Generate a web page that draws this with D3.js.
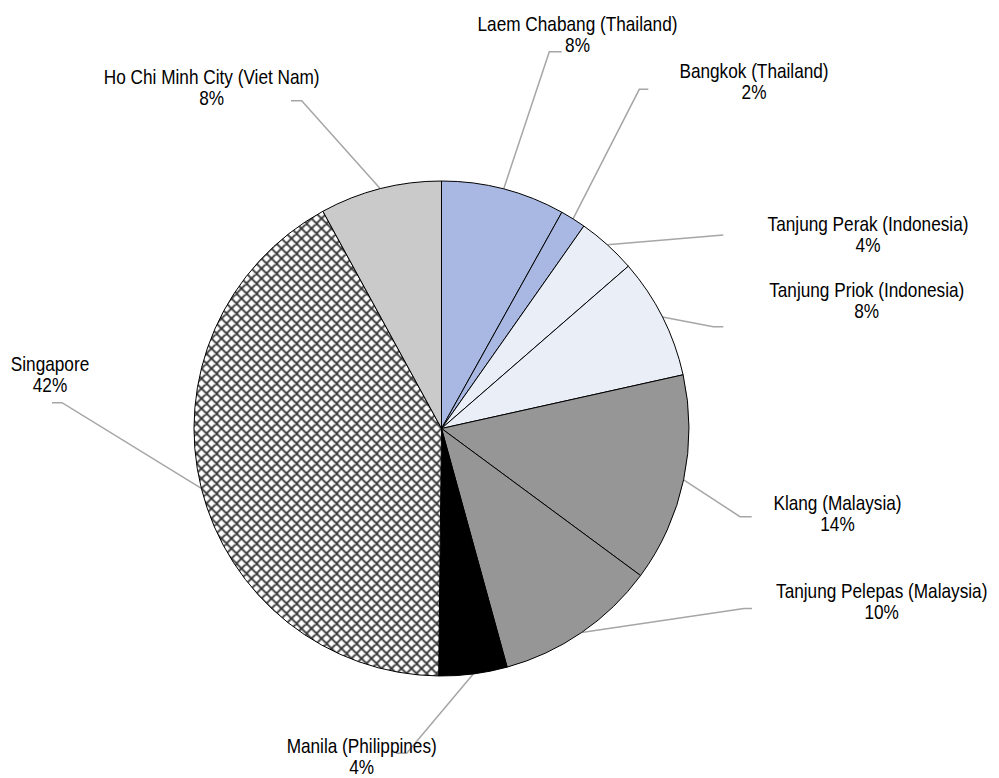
<!DOCTYPE html>
<html><head><meta charset="utf-8">
<script src="https://cdn.jsdelivr.net/npm/d3@7/dist/d3.min.js"></script>
<style>html,body{margin:0;padding:0;background:#fff}</style>
</head><body>
<svg id="chart" width="999" height="778"></svg>
<script>
// ---- data ----
const ports = [
  "Laem Chabang (Thailand)", "Bangkok (Thailand)", "Tanjung Perak (Indonesia)",
  "Tanjung Priok (Indonesia)", "Klang (Malaysia)", "Tanjung Pelepas (Malaysia)",
  "Manila (Philippines)", "Singapore", "Ho Chi Minh City (Viet Nam)"
];
const shares = [8.08, 1.67, 3.86, 7.9, 13.6, 10.6, 4.45, 41.85, 7.95];
const pctLabels = ["8%", "2%", "4%", "8%", "14%", "10%", "4%", "42%", "8%"];

// ---- styles / layout ----
const fills = ["#A8B8E2", "#A8B8E2", "#EAEEF7", "#EAEEF7", "#969696", "#969696", "#000000", "url(#hatch)", "#CACACA"];
const labelLayout = [
  {cx: 577.5, y: 30.5, elbow: [549.3, 51.7], end: [561.7, 51.7]},
  {cx: 754,   y: 77.5, elbow: [639.3, 89.3], end: [648.3, 89.3]},
  {cx: 868,   y: 231,  elbow: [723.3, 235],  end: [723.3, 235]},
  {cx: 866.7, y: 297,  elbow: [713.3, 326.7], end: [723.3, 326.7]},
  {cx: 837.5, y: 510,  elbow: [740, 516.7],  end: [751.7, 516.7]},
  {cx: 881.7, y: 598,  elbow: [744, 608.5],  end: [752, 608.5]},
  {cx: 361.7, y: 753,  elbow: [406.7, 753.3], end: [396, 753.3]},
  {cx: 50,    y: 371,  elbow: [62, 402.7],   end: [52, 402.7]},
  {cx: 211.7, y: 83.5, elbow: [301.7, 100.7], end: [291, 100.7]}
];
const CX = 441.5, CY = 428.5, R = 247.5, LINE_H = 21.5, FONT = 21, SQUEEZE = 0.82;

const svg = d3.select("#chart");
const defs = svg.append("defs");
const pat = defs.append("pattern").attr("id", "hatch")
  .attr("patternUnits", "userSpaceOnUse").attr("width", 10).attr("height", 10);
pat.append("rect").attr("width", 10).attr("height", 10).attr("fill", "#fff");
pat.append("path").attr("d", "M-1,1 L1,-1 M0,10 L10,0 M9,11 L11,9 M-1,9 L1,11 M0,0 L10,10 M9,-1 L11,1")
  .attr("stroke", "#333").attr("stroke-width", 1.9).attr("fill", "none");

const pie = d3.pie().sort(null).value(d => d).startAngle(0).endAngle(2 * Math.PI);
const arcs = pie(shares);
const arc = d3.arc().innerRadius(0).outerRadius(R);

// leader lines (drawn under pie)
const lines = svg.append("g");
arcs.forEach((a, i) => {
  const mid = (a.startAngle + a.endAngle) / 2;
  const sx = CX + R * Math.sin(mid), sy = CY - R * Math.cos(mid);
  const L = labelLayout[i];
  lines.append("polyline")
    .attr("points", [[sx, sy], L.elbow, L.end].map(p => p.join(",")).join(" "))
    .attr("fill", "none").attr("stroke", "#A6A6A6").attr("stroke-width", 1.5);
});

const g = svg.append("g").attr("transform", `translate(${CX},${CY})`);
g.selectAll("path.slice").data(arcs).enter().append("path")
  .attr("class", "slice")
  .attr("d", arc)
  .attr("fill", (d, i) => fills[i])
  .attr("stroke", "#000").attr("stroke-width", 1).attr("stroke-linejoin", "round");

// labels (Arial-like font condensed horizontally to match the narrow face)
const labels = svg.append("g")
  .attr("font-family", "'Liberation Sans', Arial, sans-serif")
  .attr("font-size", FONT).attr("fill", "#000").attr("text-anchor", "middle");
ports.forEach((p, i) => {
  const L = labelLayout[i];
  const t = labels.append("text")
    .attr("transform", `translate(${L.cx},${L.y}) scale(${SQUEEZE},1)`);
  t.append("tspan").attr("x", 0).attr("y", 0).text(p);
  t.append("tspan").attr("x", 0).attr("y", LINE_H).text(pctLabels[i]);
});
</script>
</body></html>
